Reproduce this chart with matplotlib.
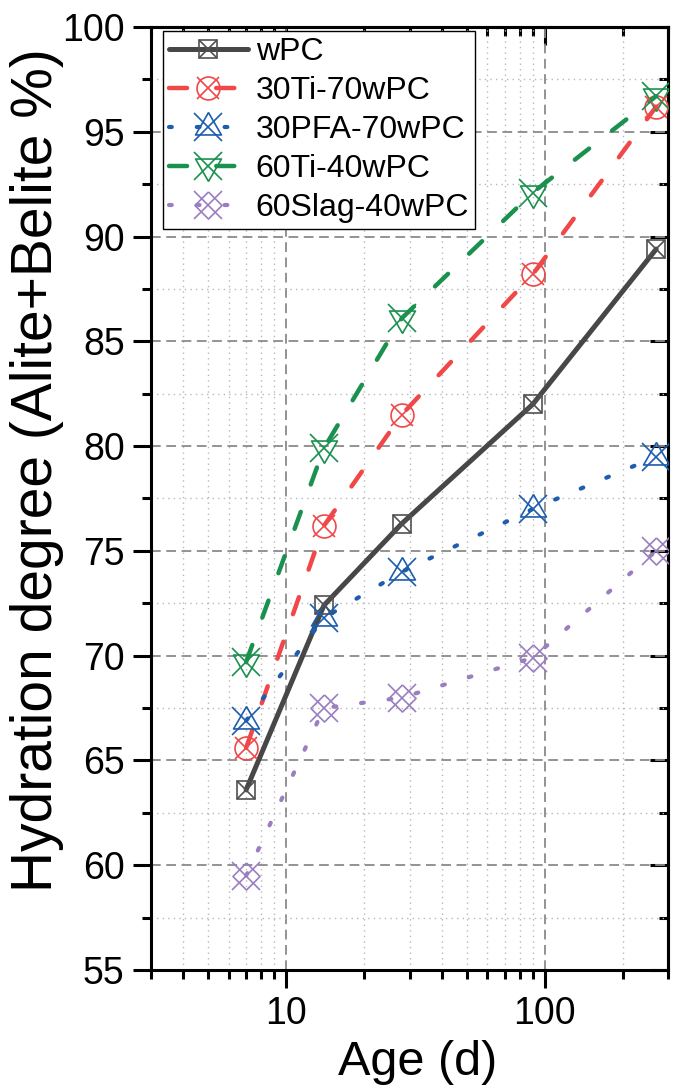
import matplotlib.pyplot as plt
import numpy as np
from matplotlib.ticker import MultipleLocator, FormatStrFormatter, NullFormatter

plt.rcParams['font.family'] = ['Liberation Sans', 'DejaVu Sans']
plt.rcParams['lines.scale_dashes'] = False

# hydration degree of alite + belite (%) against curing age (days)
age = [7, 14, 28, 90, 270]
wpc = [63.6, 72.4, 76.3, 82.0, 89.4]
ti30 = [65.6, 76.2, 81.5, 88.2, 96.2]
pfa30 = [66.9, 71.8, 74.0, 77.0, 79.5]
ti60 = [69.7, 79.9, 86.1, 92.1, 96.7]
slag60 = [59.5, 67.5, 68.0, 69.9, 75.0]
labels = ['wPC', '30Ti-70wPC', '30PFA-70wPC', '60Ti-40wPC', '60Slag-40wPC']

# open shapes, each overlaid with an x
triUp = [(0, 1), (-0.866, -0.5), (0.866, -0.5), (0, 1)]
triDown = [(0, -1), (-0.866, 0.5), (0.866, 0.5), (0, -1)]
diamond = [(0, 1), (1, 0), (0, -1), (-1, 0), (0, 1)]

dash = (0, (13, 21))
dot = (0, (2, 18))
series = [
    (wpc, '#474747', '#505050', '-', 3.6, 's', 13, 13),
    (ti30, '#f04848', '#f04848', dash, 3.2, 'o', 16.5, 16.5),
    (pfa30, '#1c5db0', '#1c5db0', dot, 3.0, triUp, 21.5, 20.5),
    (ti60, '#1b9150', '#1b9150', dash, 3.2, triDown, 21.5, 20.5),
    (slag60, '#9b7ec0', '#9b7ec0', dot, 3.0, diamond, 19.5, 19.5),
]

fig = plt.figure(figsize=(6.76, 10.91), dpi=100)
ax = fig.add_axes([0.2234, 0.1109, 0.7648, 0.8644])

handles = []
for values, lc, mc, ls, lw, mk, ms, xs in series:
    line, = ax.plot(age, values, color=lc, ls=ls, lw=lw, solid_capstyle='round',
                    dash_capstyle='round', marker=mk, ms=ms, mfc='none', mec=mc,
                    mew=1.2, zorder=3)
    cross, = ax.plot(age, values, ls='none', marker='x', ms=xs, mec=mc,
                     mew=1.2, zorder=4)
    handles.append((line, cross))

ax.set_xscale('log')
ax.set_xlim(3, 300)
ax.set_ylim(55, 100)
ax.yaxis.set_major_locator(MultipleLocator(5))
ax.yaxis.set_minor_locator(MultipleLocator(2.5))
ax.xaxis.set_major_formatter(FormatStrFormatter('%g'))
ax.xaxis.set_minor_formatter(NullFormatter())

ax.set_axisbelow(True)
ax.grid(which='major', ls=(0, (7, 4)), color='#8a8a8a', lw=1.3)
ax.grid(which='minor', ls=(0, (1, 3)), color='#b8b8b8', lw=1.0)

for sp in ax.spines.values():
    sp.set_linewidth(2.2)
ax.tick_params(which='major', direction='out', length=13, width=2.2,
               labelsize=27, pad=6)
ax.tick_params(which='minor', direction='out', length=6.5, width=2.2)

# top and right axes carry inward ticks only
top = ax.secondary_xaxis('top')
top.tick_params(which='major', direction='in', length=13, width=2.2, labeltop=False)
top.tick_params(which='minor', direction='in', length=6.5, width=2.2)
top.xaxis.set_minor_formatter(NullFormatter())
top.spines['top'].set_linewidth(2.2)
right = ax.secondary_yaxis('right')
right.yaxis.set_major_locator(MultipleLocator(5))
right.yaxis.set_minor_locator(MultipleLocator(2.5))
right.tick_params(which='major', direction='in', length=13, width=2.2, labelright=False)
right.tick_params(which='minor', direction='in', length=6.5, width=2.2)
right.spines['right'].set_linewidth(2.2)

ax.set_xlabel('Age (d)', fontsize=35)
ax.xaxis.set_label_coords(0.516, -0.074)
ax.set_ylabel('Hydration degree (Alite+Belite %)', fontsize=41)
ax.yaxis.set_label_coords(-0.168, 0.53)

leg = ax.legend(handles, labels, loc='upper left', bbox_to_anchor=(0.023, 0.996),
                borderaxespad=0, fontsize=23, numpoints=1, handlelength=2.45,
                handletextpad=0.25, labelspacing=0.28, borderpad=0.2,
                fancybox=False, framealpha=1, edgecolor='black')
leg.get_frame().set_linewidth(1.0)

fig.savefig('out.png', dpi=100)
